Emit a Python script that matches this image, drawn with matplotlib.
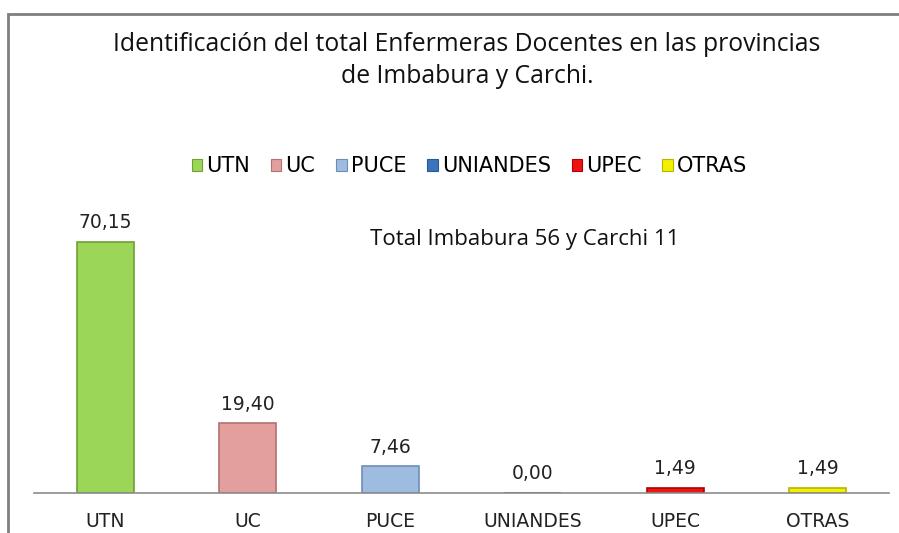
import matplotlib.pyplot as plt
from matplotlib.patches import Rectangle, Patch

categories = ['UTN', 'UC', 'PUCE', 'UNIANDES', 'UPEC', 'OTRAS']
values = [70.15, 19.40, 7.46, 0.00, 1.49, 1.49]
colors = ['#9BD658', '#E39E9E', '#9EBBE0', '#3C74BA', '#EE1414', '#F2F000']
edges = ['#6FA035', '#B57070', '#6E8DB5', '#285A96', '#B00000', '#B8B400']

title = 'Identificación del total Enfermeras Docentes en las provincias\nde Imbabura y Carchi.'
note = 'Total Imbabura 56 y Carchi 11'

fig = plt.figure(figsize=(8.99, 5.33), dpi=100)
ax = fig.add_axes([34.3 / 899, 1 - 493 / 533, 854.4 / 899, 286.8 / 533])

x = range(len(categories))
bars = ax.bar(x, values, width=0.4, color=colors, edgecolor=edges, linewidth=1.2)

for b, v in zip(bars, values):
    ax.annotate(f'{v:.2f}'.replace('.', ','), (b.get_x() + b.get_width() / 2, v),
                xytext=(0, 7), textcoords='offset points', ha='center', va='bottom',
                fontsize=13.5, color='#222222', family='DejaVu Sans')

ax.set_xlim(-0.5, 5.5)
ax.set_ylim(0, 80)
ax.set_xticks(list(x))
ax.set_xticklabels(categories, fontsize=13.5, color='#222222', family='DejaVu Sans')
ax.tick_params(axis='x', length=0, pad=14)
ax.set_yticks([])
for s in ['top', 'right', 'left']:
    ax.spines[s].set_visible(False)
ax.spines['bottom'].set_color('#8c8c8c')
ax.spines['bottom'].set_linewidth(1.2)

# chart border (runs off the right and bottom of the picture)
fig.patches.append(Rectangle((8 / 899, -0.05), 1.1, 0.05 + 1 - 14 / 533,
                             transform=fig.transFigure, fill=False,
                             edgecolor='#7f7f7f', linewidth=2))

fig.text(467 / 899, 1 - 60.5 / 533, title, ha='center', va='center',
         fontsize=17.8, family='Open Sans', color='#111111', linespacing=1.4)
fig.text(525 / 899, 1 - 240 / 533, note, ha='center', va='center',
         fontsize=16, family='Open Sans', color='#111111')

handles = [Patch(facecolor=c, edgecolor=e, linewidth=0.8) for c, e in zip(colors, edges)]
fig.legend(handles, categories, loc='center', bbox_to_anchor=(469.5 / 899, 1 - 166 / 533),
           ncol=6, frameon=False, handlelength=0.5, handleheight=0.5,
           handletextpad=0.2, columnspacing=1.0, borderaxespad=0,
           prop={'family': 'DejaVu Sans', 'size': 15})

fig.savefig('out.png', dpi=100)
